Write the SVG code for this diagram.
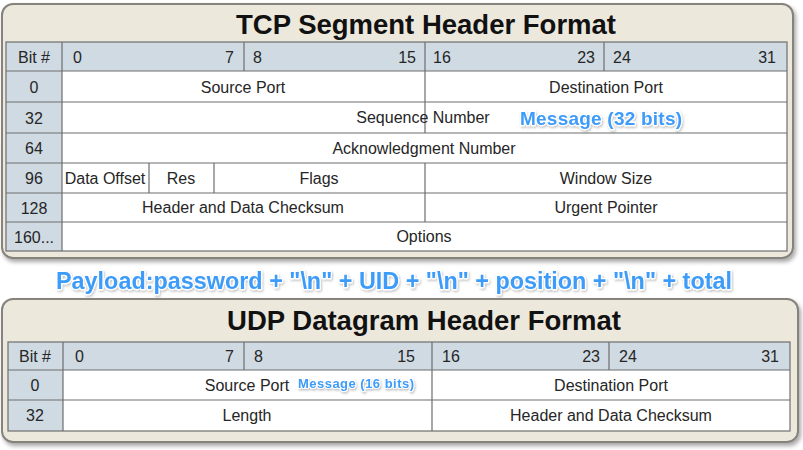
<svg xmlns="http://www.w3.org/2000/svg" width="803" height="450" viewBox="0 0 803 450">
  <style>
    .panel { fill: #ECE8DB; stroke: #85837C; stroke-width: 2; }
    .title { font-family: "Liberation Sans", Arial, sans-serif; font-weight: bold; font-size: 27.5px; fill: #111; text-anchor: middle; }
    .hdr { fill: #CFDAE3; }
    .cell { fill: #FFFFFF; }
    .grid { stroke: #6E6E6E; stroke-width: 1.2; fill: none; }
    .t { font-family: "Liberation Sans", Arial, sans-serif; font-size: 16px; fill: #262626; }
    .c { text-anchor: middle; }
    .e { text-anchor: end; }
    .note { font-family: "Liberation Sans", Arial, sans-serif; font-weight: bold; fill: #3C9BFA; stroke: #FFFFFF; stroke-width: 2.5; paint-order: stroke; stroke-linejoin: round; filter: url(#halo); }
  </style>
  <defs>
    <filter id="shadow" x="-5%" y="-5%" width="110%" height="115%">
      <feDropShadow dx="2" dy="3" stdDeviation="2" flood-color="#000" flood-opacity="0.35"/>
    </filter>
    <filter id="halo" x="-10%" y="-30%" width="120%" height="160%">
      <feDropShadow dx="1" dy="1.5" stdDeviation="1" flood-color="#000" flood-opacity="0.25"/>
    </filter>
  </defs>
  <rect width="803" height="450" fill="#FFFFFF"/>

  <!-- TCP header table -->
  <g id="tcp">
    <rect class="panel" x="2" y="4" width="791" height="254" rx="11" filter="url(#shadow)"/>
    <text class="title" x="426" y="34">TCP Segment Header Format</text>
    <rect class="cell" x="6" y="42" width="781" height="209"/>
    <rect class="hdr" x="6" y="42" width="781" height="29"/>
    <rect class="hdr" x="6" y="71" width="56" height="180"/>
    <g class="grid">
      <rect x="6" y="42" width="781" height="209"/>
      <path d="M6 71H787M6 102H787M6 133H787M6 163H787M6 193H787M6 222H787"/>
      <path d="M62 42V251M244 42V71M425 42V133M604 42V71M425 163V222M149 163V193M214 163V193"/>
    </g>
    <g class="t">
      <text class="c" x="34" y="63">Bit #</text>
      <text x="73" y="63">0</text>
      <text class="e" x="234" y="63">7</text>
      <text x="253" y="63">8</text>
      <text class="e" x="416" y="63">15</text>
      <text x="433" y="63">16</text>
      <text class="e" x="595" y="63">23</text>
      <text x="613" y="63">24</text>
      <text class="e" x="776" y="63">31</text>
      <text class="c" x="34" y="93">0</text>
      <text class="c" x="34" y="124">32</text>
      <text class="c" x="34" y="154">64</text>
      <text class="c" x="34" y="184">96</text>
      <text class="c" x="34" y="214">128</text>
      <text class="c" x="34" y="243">160...</text>
      <text class="c" x="243" y="93">Source Port</text>
      <text class="c" x="606" y="93">Destination Port</text>
      <text class="c" x="423" y="123">Sequence Number</text>
      <text class="c" x="424" y="154">Acknowledgment Number</text>
      <text class="c" x="105" y="184">Data Offset</text>
      <text class="c" x="181" y="184">Res</text>
      <text class="c" x="319" y="184">Flags</text>
      <text class="c" x="606" y="184">Window Size</text>
      <text class="c" x="243" y="213">Header and Data Checksum</text>
      <text class="c" x="606" y="213">Urgent Pointer</text>
      <text class="c" x="424" y="242">Options</text>
    </g>
    <text class="note" x="520" y="125" font-size="19" textLength="162">Message (32 bits)</text>
  </g>

  <!-- payload layout -->
  <g id="payload">
    <text class="note" x="56" y="289" font-size="23.5" textLength="676" lengthAdjust="spacingAndGlyphs">Payload:password + "\n" + UID + "\n" + position + "\n" + total</text>
  </g>

  <!-- UDP header table -->
  <g id="udp">
    <rect class="panel" x="2" y="299" width="796" height="143" rx="11" filter="url(#shadow)"/>
    <text class="title" x="424" y="330">UDP Datagram Header Format</text>
    <rect class="cell" x="8" y="342" width="782" height="89"/>
    <rect class="hdr" x="8" y="342" width="782" height="28"/>
    <rect class="hdr" x="8" y="370" width="55" height="61"/>
    <g class="grid">
      <rect x="8" y="342" width="782" height="89"/>
      <path d="M8 370H790M8 400H790"/>
      <path d="M63 342V431M244 342V370M432 342V431M609 342V370"/>
    </g>
    <g class="t">
      <text class="c" x="35" y="362">Bit #</text>
      <text x="75" y="362">0</text>
      <text class="e" x="234" y="362">7</text>
      <text x="254" y="362">8</text>
      <text class="e" x="415" y="362">15</text>
      <text x="442" y="362">16</text>
      <text class="e" x="600" y="362">23</text>
      <text x="619" y="362">24</text>
      <text class="e" x="779" y="362">31</text>
      <text class="c" x="35" y="391">0</text>
      <text class="c" x="35" y="421">32</text>
      <text class="c" x="247" y="391">Source Port</text>
      <text class="c" x="611" y="391">Destination Port</text>
      <text class="c" x="247" y="421">Length</text>
      <text class="c" x="611" y="421">Header and Data Checksum</text>
    </g>
    <text class="note" x="298" y="388" font-size="13" textLength="116" style="stroke-width:2">Message (16 bits)</text>
  </g>
</svg>
